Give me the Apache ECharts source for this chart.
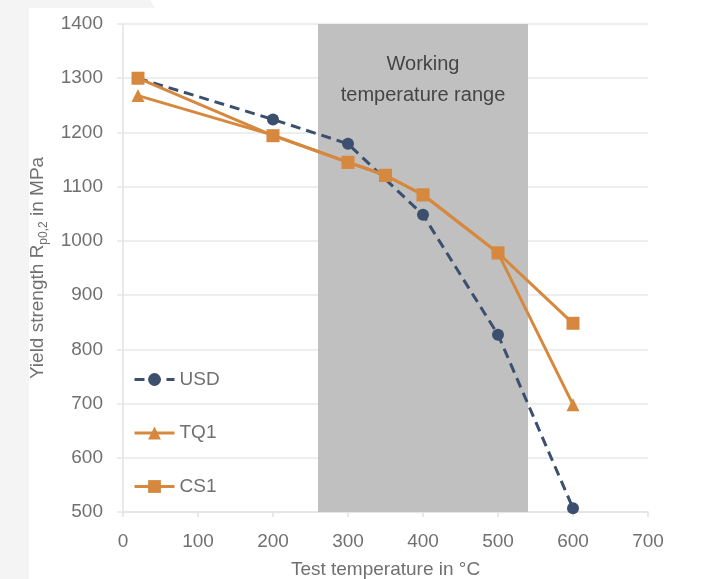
<!DOCTYPE html>
<html>
<head>
<meta charset="utf-8">
<script src="https://cdn.jsdelivr.net/npm/echarts@6/dist/echarts.min.js"></script>
<style>
html,body{margin:0;padding:0;background:#f4f4f4;}
#bg{position:absolute;left:0;top:0;width:705px;height:579px;background:#fff;
clip-path:polygon(29px 8px,155px 8px,150px 0px,705px 0px,705px 579px,29px 579px);}
#chart{position:absolute;left:0;top:0;width:705px;height:579px;}
</style>
</head>
<body>
<div id="bg"></div>
<div id="chart"></div>
<script>
// Data
const usdX = [20, 200, 300, 400, 500, 600];
const usdY = [1300, 1224, 1179, 1048, 827, 507];
const tq1X = [20, 200, 300, 350, 400, 500, 600];
const tq1Y = [1268, 1195, 1145, 1121, 1085, 978, 698];
const cs1X = [20, 200, 300, 350, 400, 500, 600];
const cs1Y = [1300, 1194, 1145, 1121, 1085, 978, 848];
const seriesNames = ['USD', 'TQ1', 'CS1'];
const workingRange = [260, 540];
const workingLabel = 'Working\ntemperature range';
const xName = 'Test temperature in °C';
const yName = 'Yield strength R{sub|p0,2} in MPa';

const navy = '#3c4f6f';
const orange = '#d6893e';
const txt = '#707070';
const font = 'Liberation Sans';

function pairs(xs, ys){ return xs.map((x,i)=>[x, ys[i]]); }

const chart = echarts.init(document.getElementById('chart'), null, {renderer:'canvas'});
chart.setOption({
  backgroundColor: 'transparent',
  animation: false,
  textStyle: {fontFamily: font},
  grid: {left: 123, right: 57, top: 24, bottom: 67, containLabel: false, outerBoundsMode: 'none'},
  legend: {
    data: seriesNames,
    orient: 'vertical',
    left: 128, top: 365,
    itemWidth: 40, itemHeight: 16, itemGap: 34.5,
    lineStyle: {width: 3},
    textStyle: {color: txt, fontSize: 19, fontFamily: font}
  },
  xAxis: {
    type: 'value', min: 0, max: 700, interval: 100,
    name: xName, nameLocation: 'middle', nameGap: 48,
    nameTextStyle: {color: txt, fontSize: 19, fontFamily: font},
    axisLine: {show: true, lineStyle: {color: '#e2e2e2', width: 1.5}},
    axisTick: {show: true, length: 5, lineStyle: {color: '#e2e2e2', width: 1.5}},
    axisLabel: {color: txt, fontSize: 19, margin: 20, fontFamily: font},
    splitLine: {show: false}
  },
  yAxis: {
    type: 'value', min: 500, max: 1400, interval: 100,
    name: yName, nameLocation: 'middle', nameGap: 72,
    nameTextStyle: {color: txt, fontSize: 19, fontFamily: font, lineHeight: 24,
      rich: {sub: {fontSize: 12, verticalAlign: 'bottom', lineHeight: 14, color: txt, fontFamily: font}}},
    axisLine: {show: true, lineStyle: {color: '#e2e2e2', width: 1.5}},
    axisTick: {show: true, length: 6, lineStyle: {color: '#e8e8e8', width: 1.5}},
    axisLabel: {color: txt, fontSize: 19, margin: 20, fontFamily: font,
      formatter: function(v){ return String(v); }},
    splitLine: {show: true, lineStyle: {color: '#e8e8e8', width: 1.5}}
  },
  series: [
    {
      name: 'range', type: 'line', data: [], z: -1, silent: true,
      markArea: {
        silent: true,
        itemStyle: {color: '#c0c0c0'},
        label: {show: true, position: 'insideTop', distance: 25, color: '#454545',
          fontSize: 20, lineHeight: 31, fontFamily: font},
        data: [[{xAxis: workingRange[0], name: workingLabel}, {xAxis: workingRange[1]}]]
      }
    },
    {
      name: 'USD', type: 'line', data: pairs(usdX, usdY), z: 3,
      symbol: 'circle', symbolSize: 12,
      lineStyle: {color: navy, width: 3, type: [10, 6]},
      itemStyle: {color: navy}
    },
    {
      name: 'TQ1', type: 'line', data: pairs(tq1X, tq1Y), z: 4,
      symbol: 'triangle', symbolSize: 13,
      lineStyle: {color: orange, width: 3},
      itemStyle: {color: orange}
    },
    {
      name: 'CS1', type: 'line', data: pairs(cs1X, cs1Y), z: 5,
      symbol: 'rect', symbolSize: 13,
      lineStyle: {color: orange, width: 3},
      itemStyle: {color: orange}
    }
  ]
});
</script>
</body>
</html>
